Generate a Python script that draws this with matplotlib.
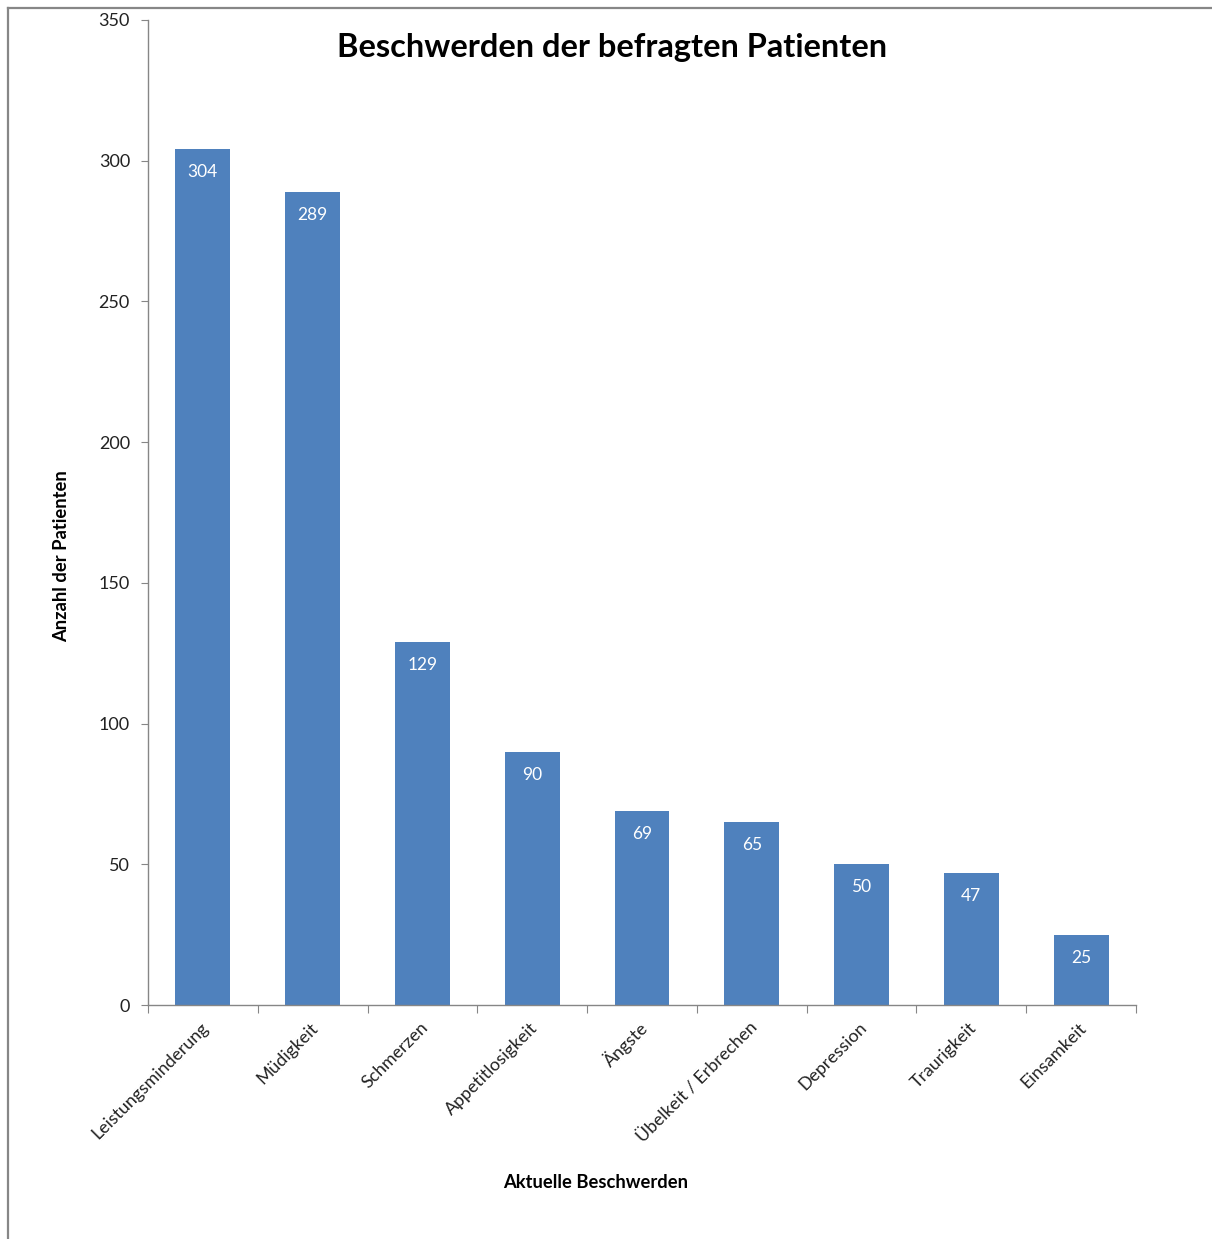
import matplotlib
matplotlib.use("Agg")
import matplotlib.pyplot as plt
from matplotlib.lines import Line2D

categories = ["Leistungsminderung", "Müdigkeit", "Schmerzen", "Appetitlosigkeit",
              "Ängste", "Übelkeit / Erbrechen", "Depression", "Traurigkeit", "Einsamkeit"]
values = [304, 289, 129, 90, 69, 65, 50, 47, 25]
yticks = [0, 50, 100, 150, 200, 250, 300, 350]

FONT = ["Lato", "DejaVu Sans"]
plt.rcParams['font.family'] = FONT

W, H = 1212, 1239
fig = plt.figure(figsize=(W/100, H/100), dpi=100)
ax = fig.add_axes([148/W, 1 - 1005/H, (1136-148)/W, (1005-20)/H])

x = list(range(len(categories)))
ax.bar(x, values, width=0.5, color="#4F81BD", zorder=2)
ax.set_xlim(-0.5, len(categories) - 0.5)
ax.set_ylim(0, 350)

for xi, v in zip(x, values):
    ax.annotate(str(v), (xi, v), xytext=(0, -23), textcoords="offset pixels",
                ha="center", va="center", color="white", fontsize=12.5)

gray = "#868686"
for s in ["top", "right"]:
    ax.spines[s].set_visible(False)
for s in ["left", "bottom"]:
    ax.spines[s].set_color(gray)
    ax.spines[s].set_linewidth(1.0)

ax.set_yticks(yticks)
ax.set_yticklabels([str(t) for t in yticks], fontsize=13, color="#222222")
ax.tick_params(axis="y", length=5, color=gray, pad=8)

# x ticks at category boundaries
ax.set_xticks([i - 0.5 for i in range(len(categories) + 1)])
ax.set_xticklabels([])
ax.tick_params(axis="x", length=6, color=gray)
for xi, c in zip(x, categories):
    ax.annotate(c, (xi, 0), xytext=(3, -20), textcoords="offset pixels",
                ha="right", va="center", rotation=45, rotation_mode="anchor",
                fontsize=12.8, color="#222222", annotation_clip=False)

fig.text(612/W, 1 - 48/H, "Beschwerden der befragten Patienten", ha="center", va="center",
         fontsize=23.4, fontweight="bold", color="black")
fig.text(62/W, 1 - 556/H, "Anzahl der Patienten", ha="center", va="center",
         rotation=90, fontsize=13.2, fontweight="bold", color="black")
fig.text(596/W, 1 - 1183/H, "Aktuelle Beschwerden", ha="center", va="center",
         fontsize=13.2, fontweight="bold", color="black")

# outer frame lines (left and top)
fig.add_artist(Line2D([8/W, 8/W], [0, 1 - 8/H], transform=fig.transFigure, color="#878787", lw=1.6))
fig.add_artist(Line2D([8/W, 1], [1 - 8/H, 1 - 8/H], transform=fig.transFigure, color="#878787", lw=1.6))

fig.savefig("out.png", dpi=100)
